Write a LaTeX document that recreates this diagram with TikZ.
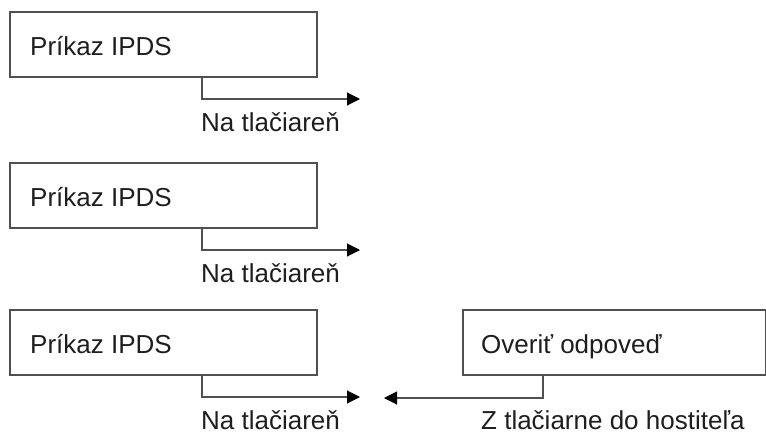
\documentclass[tikz,border=0pt]{standalone}
\usepackage{fontspec}
\setmainfont{Liberation Sans}
\usetikzlibrary{arrows.meta}
\definecolor{boxline}{HTML}{505050}
\definecolor{txt}{HTML}{1E1E1E}
\begin{document}
\begin{tikzpicture}[x=1pt,y=-1pt,
  cmdbox/.style={draw=boxline,line width=1.2pt},
  lbl/.style={anchor=base west,inner sep=0pt,text=txt,font=\fontsize{26}{30}\selectfont},
  flow/.style={draw=boxline,line width=1.1pt,-{Triangle[length=13pt,width=13pt,color=black]}}]
\useasboundingbox (0,0) rectangle (766,432);

% three command boxes on the left
\foreach \i/\t in {1/12,2/163,3/310}{
  \draw[cmdbox] (10,\t) rectangle (317,\t+65);
  \node[lbl] (cmd\i) at (30,\t+43) {Príkaz IPDS};
  \coordinate (s\i) at (202,\t+65);
  \coordinate (e\i) at (360,\t+87);
  \node[lbl] (to\i) at (201,\t+119) {Na tlačiareň};
  \draw[flow] (s\i) |- (e\i);
}

% reply box on the right
\draw[cmdbox] (463,310) rectangle (766,375);
\node[lbl] (reply) at (481,353) {Overiť odpoveď};
\coordinate (rs) at (543,375);
\coordinate (re) at (384,398);
\draw[flow] (rs) |- (re);
\node[lbl] (back) at (481,429) {Z tlačiarne do hostiteľa};
\end{tikzpicture}
\end{document}
